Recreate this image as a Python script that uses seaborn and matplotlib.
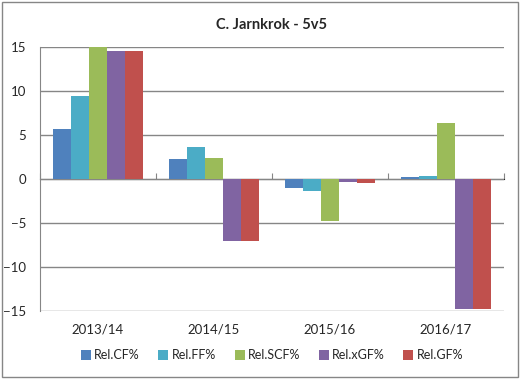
import pandas as pd
import matplotlib.pyplot as plt
import seaborn as sns
from matplotlib.patches import Rectangle

sns.set_style('white')
plt.rcParams['font.family'] = ['Lato', 'DejaVu Sans']

# valores
seasons = ['2013/14', '2014/15', '2015/16', '2016/17']
metrics = ['Rel.CF%', 'Rel.FF%', 'Rel.SCF%', 'Rel.xGF%', 'Rel.GF%']
rel_cf = [5.7, 2.3, -1.05, 0.25]
rel_ff = [9.4, 3.6, -1.3, 0.4]
rel_scf = [15.0, 2.4, -4.8, 6.4]
rel_xgf = [14.6, -7.0, -0.35, -14.7]
rel_gf = [14.6, -7.0, -0.4, -14.7]
cores = ['#4F81BD', '#4BACC6', '#9BBB59', '#8064A2', '#C0504D']

series = [rel_cf, rel_ff, rel_scf, rel_xgf, rel_gf]
rows = []
for m, vals in zip(metrics, series):
    for s, v in zip(seasons, vals):
        rows.append({'Season': s, 'Metric': m, 'Value': v})
df = pd.DataFrame(rows)

fig = plt.figure(figsize=(5.2, 3.79), dpi=100)
ax = fig.add_axes([0.077, 0.179, 0.892, 0.697])

sns.barplot(data=df, x='Season', y='Value', hue='Metric', hue_order=metrics,
            order=seasons, palette=cores, width=0.78, gap=0, saturation=1,
            errorbar=None, linewidth=0, ax=ax)

ax.set_ylim(-15, 15)
ax.set_xlim(-0.5, 3.5)
ax.set_yticks(range(-15, 16, 5))
ax.yaxis.grid(True, color='#868686', linewidth=1)
ax.set_axisbelow(True)
for sp in ['top', 'right', 'bottom']:
    ax.spines[sp].set_visible(False)
ax.spines['left'].set_color('#868686')
ax.tick_params(axis='y', length=4, color='#868686', labelsize=9.5, pad=6)
ax.tick_params(axis='x', length=0, labelsize=9.5, pad=9)
ax.set_xlabel('')
ax.set_ylabel('')

# eixo x na linha do zero com marcas entre as temporadas
zero = ax.secondary_xaxis(0.5)
zero.set_xticks([-0.5, 0.5, 1.5, 2.5, 3.5])
zero.set_xticklabels([])
zero.tick_params(length=4, color='#868686')
zero.spines['bottom'].set_color('#868686')

ax.set_title('C. Jarnkrok - 5v5', fontsize=10.5, fontweight='bold', pad=13)

handles, labels = ax.get_legend_handles_labels()
for h in handles:
    h.set_linewidth(0)
ax.legend(handles, labels, loc='center', bbox_to_anchor=(0.5, -0.167), ncol=5,
          frameon=False, fontsize=9, handlelength=0.8, handleheight=0.8,
          handletextpad=0.25, columnspacing=1.5)

fig.patches.append(Rectangle((0.004, 0.005), 0.992, 0.99, transform=fig.transFigure,
                             fill=False, edgecolor='#868686', linewidth=1))

plt.savefig('out.png', dpi=100)
